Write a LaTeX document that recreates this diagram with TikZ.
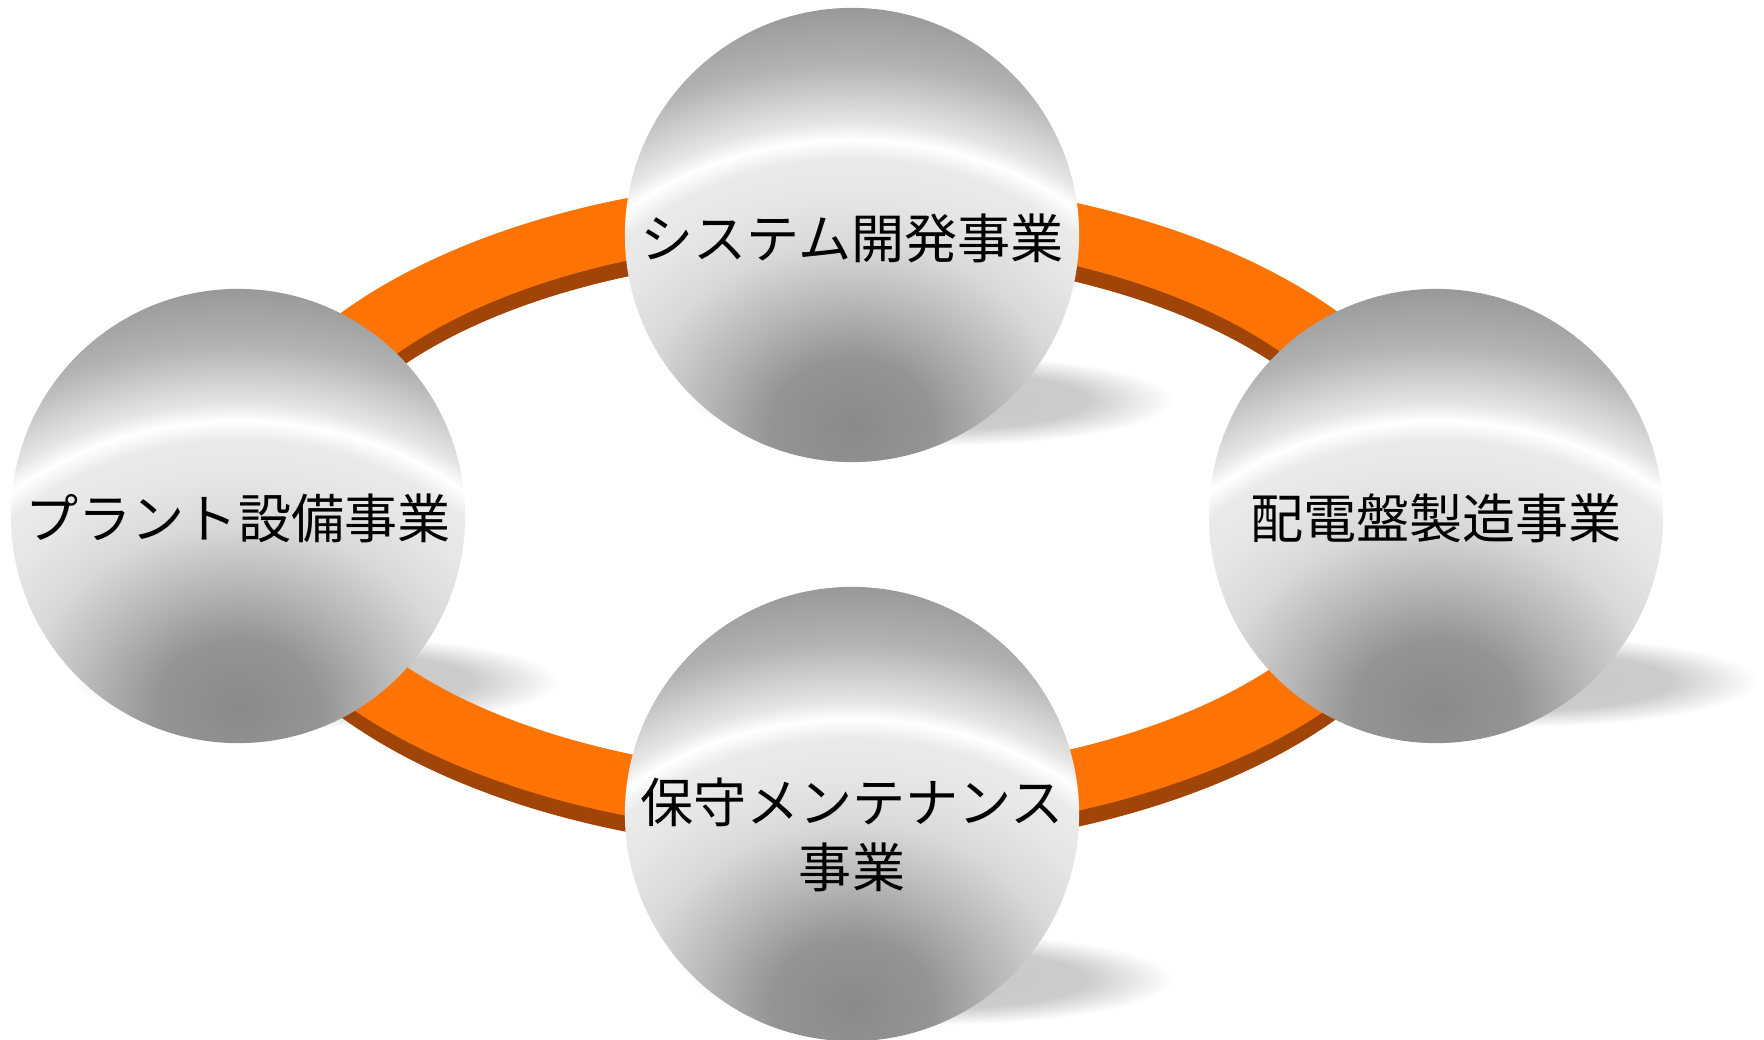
\documentclass[tikz,border=0pt]{standalone}
\usepackage{fontspec}
\newfontfamily\jpfont{Noto Sans CJK JP}

\definecolor{ringorange}{RGB}{254,116,4}
\definecolor{ringbrown}{RGB}{160,68,8}

\pgfdeclareradialshading{spheregrad}{\pgfpoint{0bp}{0bp}}{color(0bp)=(black!46); color(3.9bp)=(black!42); color(7.2bp)=(black!28); color(10.5bp)=(black!15); color(13.2bp)=(black!10); color(15.5bp)=(black!8); color(16.6bp)=(black!0); color(17.6bp)=(black!10); color(21bp)=(black!30); color(24.2bp)=(black!40); color(25bp)=(black!41); color(50bp)=(black!41)}
\pgfdeclareradialshading{softshadow}{\pgfpoint{0bp}{0bp}}{color(0bp)=(black!22); color(16bp)=(black!20); color(25bp)=(white); color(50bp)=(white)}

\tikzset{
  sphere/.style={circle, minimum size=4.54cm, inner sep=0pt,
    path picture={\shade[shading=spheregrad] ([yshift=-1.91cm]path picture bounding box.center) ellipse [x radius=5.17cm, y radius=4.31cm];}},
  bizlabel/.style={font=\jpfont\fontsize{15.1}{18.5}\selectfont, align=center, inner sep=0pt},
  dropshadow/.style={shading=softshadow}
}

\begin{document}
\begin{tikzpicture}[x=0.01cm, y=-0.01cm]
\def \xring   {840}
\def \yring   {507}
\def \xmid    {852}
\def \xleft   {238}
\def \xright  {1436}
\def \ytop    {235}
\def \ymid    {516}
\def \ybot    {814}

\useasboundingbox (0,0) rectangle (1764,1040);

% shadows
\path[dropshadow] (\xmid+79, \ytop+165) ellipse [x radius=243, y radius=46];
\path[dropshadow] (\xleft+79, \ymid+165) ellipse [x radius=243, y radius=46];
\path[dropshadow] (\xright+79, \ymid+165) ellipse [x radius=243, y radius=46];
\path[dropshadow] (\xmid+79, \ybot+165) ellipse [x radius=243, y radius=46];

% ring side
\fill[ringbrown, even odd rule] (\xring, \yring+16) ellipse [x radius=618, y radius=329]
  (\xring, \yring+16) ellipse [x radius=540, y radius=268];
% ring top
\fill[ringorange, even odd rule] (\xring, \yring) ellipse [x radius=618, y radius=329]
  (\xring, \yring) ellipse [x radius=540, y radius=268];

% spheres
\node[sphere] (sys) at (\xmid, \ytop) {};
\node[sphere] (plant) at (\xleft, \ymid) {};
\node[sphere] (panel) at (\xright, \ymid) {};
\node[sphere] (maint) at (\xmid, \ybot) {};

% texts
\node[bizlabel] (sysText) at (\xmid, \ytop+3) {システム開発事業};
\node[bizlabel] (plantText) at (\xleft, \ymid+2) {プラント設備事業};
\node[bizlabel] (panelText) at (\xright, \ymid+2) {配電盤製造事業};
\node[bizlabel] (maintText) at (\xmid, \ybot+21) {保守メンテナンス\\事業};
\end{tikzpicture}
\end{document}
